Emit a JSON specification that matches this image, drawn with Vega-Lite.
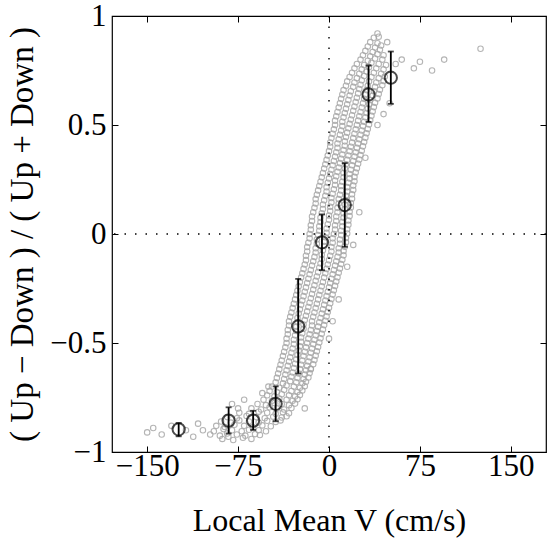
{
  "$schema": "https://vega.github.io/schema/vega-lite/v6.json",
  "width": 434,
  "height": 436,
  "autosize": "none",
  "padding": {"left": 112, "top": 16, "right": 1, "bottom": 95},
  "background": "white",
  "config": {
    "view": {"stroke": "black", "strokeWidth": 1.2},
    "font": "Liberation Serif",
    "axis": {"domain": false, "grid": false, "labelFont": "Liberation Serif", "titleFont": "Liberation Serif", "labelColor": "black", "titleColor": "black", "tickColor": "black", "titleFontWeight": "normal"}
  },
  "datasets": {
    "cloud": [
      {"v":-88,"r":-0.94},{"v":-79,"r":-0.945},{"v":-71,"r":-0.935},{"v":-64,"r":-0.94},{"v":-83,"r":-0.93},
      {"v":-98,"r":-0.92},{"v":-90,"r":-0.925},{"v":-84,"r":-0.915},{"v":-76,"r":-0.92},{"v":-69,"r":-0.925},{"v":-61,"r":-0.918},{"v":-57,"r":-0.922},
      {"v":-104,"r":-0.9},{"v":-95,"r":-0.905},{"v":-87,"r":-0.895},{"v":-80,"r":-0.9},{"v":-72,"r":-0.905},{"v":-66,"r":-0.898},{"v":-58,"r":-0.9},{"v":-52,"r":-0.905},
      {"v":-93,"r":-0.88},{"v":-86,"r":-0.885},{"v":-78,"r":-0.875},{"v":-70,"r":-0.88},{"v":-63,"r":-0.885},{"v":-55,"r":-0.878},{"v":-48,"r":-0.882},
      {"v":-89,"r":-0.86},{"v":-81,"r":-0.865},{"v":-74,"r":-0.855},{"v":-66,"r":-0.86},{"v":-58,"r":-0.865},{"v":-51,"r":-0.857},{"v":-44,"r":-0.862},{"v":-40,"r":-0.855},
      {"v":-84,"r":-0.84},{"v":-76,"r":-0.845},{"v":-68,"r":-0.835},{"v":-60,"r":-0.84},{"v":-53,"r":-0.845},{"v":-46,"r":-0.838},{"v":-39,"r":-0.842},{"v":-35,"r":-0.836},
      {"v":-74,"r":-0.82},{"v":-66,"r":-0.825},{"v":-58,"r":-0.815},{"v":-51,"r":-0.82},{"v":-44,"r":-0.825},{"v":-38,"r":-0.818},{"v":-33,"r":-0.822},
      {"v":-64,"r":-0.8},{"v":-56,"r":-0.805},{"v":-49,"r":-0.795},{"v":-43,"r":-0.8},{"v":-37,"r":-0.805},{"v":-31,"r":-0.798},
      {"v":-59,"r":-0.78},{"v":-52,"r":-0.785},{"v":-45,"r":-0.775},{"v":-39,"r":-0.78},{"v":-33,"r":-0.785},{"v":-28,"r":-0.778},
      {"v":-54,"r":-0.76},{"v":-47,"r":-0.765},{"v":-41,"r":-0.755},{"v":-35,"r":-0.76},{"v":-30,"r":-0.765},{"v":-26,"r":-0.758},
      {"v":-51,"r":-0.74},{"v":-45,"r":-0.745},{"v":-39,"r":-0.735},{"v":-33,"r":-0.74},{"v":-28,"r":-0.745},{"v":-24,"r":-0.738},
      {"v":-49,"r":-0.72},{"v":-43,"r":-0.725},{"v":-37,"r":-0.715},{"v":-31,"r":-0.72},{"v":-26,"r":-0.725},{"v":-22,"r":-0.718},
      {"v":-47,"r":-0.7},{"v":-41,"r":-0.705},{"v":-35,"r":-0.695},{"v":-29,"r":-0.7},{"v":-24,"r":-0.705},{"v":-20,"r":-0.698},
      {"v":-44,"r":-0.68},{"v":-38,"r":-0.685},{"v":-32,"r":-0.675},{"v":-27,"r":-0.68},{"v":-22,"r":-0.685},{"v":-19,"r":-0.678},
      {"v":-43,"r":-0.66},{"v":-37,"r":-0.665},{"v":-31,"r":-0.655},{"v":-26,"r":-0.66},{"v":-21,"r":-0.665},{"v":-17,"r":-0.658},
      {"v":-42,"r":-0.64},{"v":-36,"r":-0.645},{"v":-30,"r":-0.635},{"v":-25,"r":-0.64},{"v":-20,"r":-0.645},{"v":-16,"r":-0.638},
      {"v":-41,"r":-0.62},{"v":-35,"r":-0.625},{"v":-29,"r":-0.615},{"v":-24,"r":-0.62},{"v":-19,"r":-0.625},{"v":-15,"r":-0.618},
      {"v":-40,"r":-0.6},{"v":-34,"r":-0.605},{"v":-28,"r":-0.595},{"v":-23,"r":-0.6},{"v":-18,"r":-0.605},{"v":-13,"r":-0.598},
      {"v":-39,"r":-0.58},{"v":-33,"r":-0.585},{"v":-27,"r":-0.575},{"v":-22,"r":-0.58},{"v":-17,"r":-0.585},{"v":-12,"r":-0.578},
      {"v":-38,"r":-0.56},{"v":-32,"r":-0.565},{"v":-26,"r":-0.555},{"v":-21,"r":-0.56},{"v":-16,"r":-0.565},{"v":-11,"r":-0.558},
      {"v":-37,"r":-0.54},{"v":-31,"r":-0.545},{"v":-25,"r":-0.535},{"v":-20,"r":-0.54},{"v":-15,"r":-0.545},{"v":-10,"r":-0.538},
      {"v":-36,"r":-0.52},{"v":-30,"r":-0.525},{"v":-24,"r":-0.515},{"v":-19,"r":-0.52},{"v":-14,"r":-0.525},{"v":-9,"r":-0.518},
      {"v":-35,"r":-0.5},{"v":-29,"r":-0.505},{"v":-23,"r":-0.495},{"v":-18,"r":-0.5},{"v":-13,"r":-0.505},{"v":-8,"r":-0.498},
      {"v":-35,"r":-0.48},{"v":-29,"r":-0.485},{"v":-23,"r":-0.475},{"v":-17,"r":-0.48},{"v":-12,"r":-0.485},{"v":-7,"r":-0.478},
      {"v":-34,"r":-0.46},{"v":-28,"r":-0.465},{"v":-22,"r":-0.455},{"v":-16,"r":-0.46},{"v":-11,"r":-0.465},{"v":-6,"r":-0.458},
      {"v":-34,"r":-0.44},{"v":-27,"r":-0.445},{"v":-21,"r":-0.435},{"v":-15,"r":-0.44},{"v":-10,"r":-0.445},{"v":-5,"r":-0.438},
      {"v":-33,"r":-0.42},{"v":-27,"r":-0.425},{"v":-21,"r":-0.415},{"v":-14,"r":-0.42},{"v":-9,"r":-0.425},{"v":-4,"r":-0.418},
      {"v":-33,"r":-0.4},{"v":-26,"r":-0.405},{"v":-20,"r":-0.395},{"v":-14,"r":-0.4},{"v":-8,"r":-0.405},{"v":-3,"r":-0.398},
      {"v":-32,"r":-0.38},{"v":-26,"r":-0.385},{"v":-19,"r":-0.375},{"v":-13,"r":-0.38},{"v":-7,"r":-0.385},{"v":-2,"r":-0.378},
      {"v":-31,"r":-0.36},{"v":-25,"r":-0.365},{"v":-18,"r":-0.355},{"v":-12,"r":-0.36},{"v":-6,"r":-0.365},{"v":-1,"r":-0.358},
      {"v":-30,"r":-0.34},{"v":-24,"r":-0.345},{"v":-17,"r":-0.335},{"v":-11,"r":-0.34},{"v":-5,"r":-0.345},{"v":0,"r":-0.338},
      {"v":-29,"r":-0.32},{"v":-23,"r":-0.325},{"v":-16,"r":-0.315},{"v":-10,"r":-0.32},{"v":-4,"r":-0.325},{"v":1,"r":-0.318},
      {"v":-28,"r":-0.3},{"v":-22,"r":-0.305},{"v":-15,"r":-0.295},{"v":-9,"r":-0.3},{"v":-3,"r":-0.305},{"v":2,"r":-0.298},
      {"v":-27,"r":-0.28},{"v":-21,"r":-0.285},{"v":-14,"r":-0.275},{"v":-8,"r":-0.28},{"v":-2,"r":-0.285},{"v":3,"r":-0.278},
      {"v":-26,"r":-0.26},{"v":-20,"r":-0.265},{"v":-13,"r":-0.255},{"v":-7,"r":-0.26},{"v":-1,"r":-0.265},{"v":4,"r":-0.258},
      {"v":-25,"r":-0.24},{"v":-19,"r":-0.245},{"v":-12,"r":-0.235},{"v":-6,"r":-0.24},{"v":0,"r":-0.245},{"v":5,"r":-0.238},
      {"v":-24,"r":-0.22},{"v":-18,"r":-0.225},{"v":-11,"r":-0.215},{"v":-5,"r":-0.22},{"v":1,"r":-0.225},{"v":6,"r":-0.218},
      {"v":-23,"r":-0.2},{"v":-17,"r":-0.205},{"v":-10,"r":-0.195},{"v":-4,"r":-0.2},{"v":2,"r":-0.205},{"v":7,"r":-0.198},
      {"v":-22,"r":-0.18},{"v":-16,"r":-0.185},{"v":-9,"r":-0.175},{"v":-3,"r":-0.18},{"v":3,"r":-0.185},{"v":8,"r":-0.178},
      {"v":-21,"r":-0.16},{"v":-15,"r":-0.165},{"v":-8,"r":-0.155},{"v":-2,"r":-0.16},{"v":4,"r":-0.165},{"v":9,"r":-0.158},
      {"v":-20,"r":-0.14},{"v":-14,"r":-0.145},{"v":-7,"r":-0.135},{"v":-1,"r":-0.14},{"v":5,"r":-0.145},{"v":10,"r":-0.138},
      {"v":-19,"r":-0.12},{"v":-13,"r":-0.125},{"v":-6,"r":-0.115},{"v":0,"r":-0.12},{"v":6,"r":-0.125},{"v":11,"r":-0.118},
      {"v":-19,"r":-0.1},{"v":-12,"r":-0.105},{"v":-6,"r":-0.095},{"v":1,"r":-0.1},{"v":7,"r":-0.105},{"v":12,"r":-0.098},
      {"v":-18,"r":-0.08},{"v":-11,"r":-0.085},{"v":-5,"r":-0.075},{"v":2,"r":-0.08},{"v":8,"r":-0.085},{"v":12,"r":-0.078},
      {"v":-18,"r":-0.06},{"v":-11,"r":-0.065},{"v":-4,"r":-0.055},{"v":2,"r":-0.06},{"v":8,"r":-0.065},{"v":13,"r":-0.058},
      {"v":-17,"r":-0.04},{"v":-10,"r":-0.045},{"v":-4,"r":-0.035},{"v":3,"r":-0.04},{"v":9,"r":-0.045},{"v":14,"r":-0.038},
      {"v":-16,"r":-0.02},{"v":-10,"r":-0.025},{"v":-3,"r":-0.015},{"v":3,"r":-0.02},{"v":9,"r":-0.025},{"v":14,"r":-0.018},
      {"v":-16,"r":0.0},{"v":-9,"r":-0.005},{"v":-2,"r":0.005},{"v":4,"r":0.0},{"v":10,"r":-0.005},{"v":15,"r":0.002},
      {"v":-15,"r":0.02},{"v":-8,"r":0.015},{"v":-2,"r":0.025},{"v":5,"r":0.02},{"v":10,"r":0.015},{"v":15,"r":0.022},
      {"v":-15,"r":0.04},{"v":-8,"r":0.035},{"v":-1,"r":0.045},{"v":5,"r":0.04},{"v":11,"r":0.035},{"v":16,"r":0.042},
      {"v":-14,"r":0.06},{"v":-7,"r":0.055},{"v":0,"r":0.065},{"v":6,"r":0.06},{"v":11,"r":0.055},{"v":16,"r":0.062},
      {"v":-14,"r":0.08},{"v":-7,"r":0.075},{"v":0,"r":0.085},{"v":6,"r":0.08},{"v":12,"r":0.075},{"v":17,"r":0.082},
      {"v":-13,"r":0.1},{"v":-6,"r":0.095},{"v":1,"r":0.105},{"v":7,"r":0.1},{"v":12,"r":0.095},{"v":17,"r":0.102},
      {"v":-12,"r":0.12},{"v":-5,"r":0.115},{"v":1,"r":0.125},{"v":7,"r":0.12},{"v":13,"r":0.115},{"v":18,"r":0.122},
      {"v":-11,"r":0.14},{"v":-5,"r":0.135},{"v":2,"r":0.145},{"v":8,"r":0.14},{"v":13,"r":0.135},{"v":18,"r":0.142},
      {"v":-11,"r":0.16},{"v":-4,"r":0.155},{"v":2,"r":0.165},{"v":8,"r":0.16},{"v":14,"r":0.155},{"v":19,"r":0.162},
      {"v":-10,"r":0.18},{"v":-3,"r":0.175},{"v":3,"r":0.185},{"v":9,"r":0.18},{"v":14,"r":0.175},{"v":19,"r":0.182},
      {"v":-9,"r":0.2},{"v":-2,"r":0.195},{"v":4,"r":0.205},{"v":10,"r":0.2},{"v":15,"r":0.195},{"v":20,"r":0.202},
      {"v":-8,"r":0.22},{"v":-2,"r":0.215},{"v":5,"r":0.225},{"v":10,"r":0.22},{"v":15,"r":0.215},{"v":20,"r":0.222},
      {"v":-7,"r":0.24},{"v":-1,"r":0.235},{"v":5,"r":0.245},{"v":11,"r":0.24},{"v":16,"r":0.235},{"v":21,"r":0.242},
      {"v":-6,"r":0.26},{"v":0,"r":0.255},{"v":6,"r":0.265},{"v":12,"r":0.26},{"v":17,"r":0.255},{"v":21,"r":0.262},
      {"v":-5,"r":0.28},{"v":1,"r":0.275},{"v":7,"r":0.285},{"v":12,"r":0.28},{"v":17,"r":0.275},{"v":22,"r":0.282},
      {"v":-4,"r":0.3},{"v":2,"r":0.295},{"v":8,"r":0.305},{"v":13,"r":0.3},{"v":18,"r":0.295},{"v":23,"r":0.302},
      {"v":-3,"r":0.32},{"v":3,"r":0.315},{"v":9,"r":0.325},{"v":14,"r":0.32},{"v":19,"r":0.315},{"v":24,"r":0.322},
      {"v":-2,"r":0.34},{"v":4,"r":0.335},{"v":10,"r":0.345},{"v":15,"r":0.34},{"v":20,"r":0.335},{"v":25,"r":0.342},
      {"v":-1,"r":0.36},{"v":5,"r":0.355},{"v":11,"r":0.365},{"v":16,"r":0.36},{"v":21,"r":0.355},{"v":26,"r":0.362},
      {"v":0,"r":0.38},{"v":6,"r":0.375},{"v":12,"r":0.385},{"v":17,"r":0.38},{"v":22,"r":0.375},{"v":27,"r":0.382},
      {"v":1,"r":0.4},{"v":7,"r":0.395},{"v":13,"r":0.405},{"v":18,"r":0.4},{"v":23,"r":0.395},{"v":28,"r":0.402},
      {"v":1,"r":0.42},{"v":7,"r":0.415},{"v":13,"r":0.425},{"v":19,"r":0.42},{"v":24,"r":0.415},{"v":29,"r":0.422},
      {"v":2,"r":0.44},{"v":8,"r":0.435},{"v":14,"r":0.445},{"v":20,"r":0.44},{"v":25,"r":0.435},{"v":30,"r":0.442},
      {"v":3,"r":0.46},{"v":9,"r":0.455},{"v":15,"r":0.465},{"v":21,"r":0.46},{"v":26,"r":0.455},{"v":31,"r":0.462},
      {"v":4,"r":0.48},{"v":10,"r":0.475},{"v":16,"r":0.485},{"v":22,"r":0.48},{"v":27,"r":0.475},{"v":32,"r":0.482},
      {"v":5,"r":0.5},{"v":11,"r":0.495},{"v":17,"r":0.505},{"v":23,"r":0.5},{"v":28,"r":0.495},{"v":33,"r":0.502},
      {"v":5,"r":0.52},{"v":11,"r":0.515},{"v":18,"r":0.525},{"v":24,"r":0.52},{"v":29,"r":0.515},{"v":34,"r":0.522},
      {"v":6,"r":0.54},{"v":12,"r":0.535},{"v":19,"r":0.545},{"v":25,"r":0.54},{"v":30,"r":0.535},{"v":35,"r":0.542},
      {"v":7,"r":0.56},{"v":13,"r":0.555},{"v":20,"r":0.565},{"v":26,"r":0.56},{"v":31,"r":0.555},{"v":36,"r":0.562},
      {"v":8,"r":0.58},{"v":14,"r":0.575},{"v":21,"r":0.585},{"v":27,"r":0.58},{"v":32,"r":0.575},{"v":37,"r":0.582},
      {"v":9,"r":0.6},{"v":15,"r":0.595},{"v":22,"r":0.605},{"v":28,"r":0.6},{"v":33,"r":0.595},{"v":38,"r":0.602},
      {"v":10,"r":0.62},{"v":16,"r":0.615},{"v":23,"r":0.625},{"v":29,"r":0.62},{"v":34,"r":0.615},{"v":40,"r":0.622},
      {"v":11,"r":0.64},{"v":17,"r":0.635},{"v":24,"r":0.645},{"v":30,"r":0.64},{"v":36,"r":0.635},{"v":41,"r":0.642},
      {"v":12,"r":0.66},{"v":18,"r":0.655},{"v":25,"r":0.665},{"v":31,"r":0.66},{"v":37,"r":0.655},{"v":42,"r":0.662},
      {"v":14,"r":0.68},{"v":20,"r":0.675},{"v":26,"r":0.685},{"v":32,"r":0.68},{"v":38,"r":0.675},{"v":44,"r":0.682},
      {"v":15,"r":0.7},{"v":21,"r":0.695},{"v":27,"r":0.705},{"v":33,"r":0.7},{"v":39,"r":0.695},{"v":45,"r":0.702},
      {"v":17,"r":0.72},{"v":23,"r":0.715},{"v":29,"r":0.725},{"v":35,"r":0.72},{"v":41,"r":0.715},{"v":46,"r":0.722},
      {"v":19,"r":0.74},{"v":25,"r":0.735},{"v":31,"r":0.745},{"v":37,"r":0.74},{"v":43,"r":0.735},
      {"v":21,"r":0.76},{"v":27,"r":0.755},{"v":33,"r":0.765},{"v":39,"r":0.76},{"v":45,"r":0.755},
      {"v":23,"r":0.78},{"v":29,"r":0.775},{"v":35,"r":0.785},{"v":41,"r":0.78},{"v":47,"r":0.775},
      {"v":26,"r":0.8},{"v":32,"r":0.795},{"v":38,"r":0.805},{"v":44,"r":0.8},
      {"v":28,"r":0.82},{"v":34,"r":0.815},{"v":40,"r":0.825},{"v":45,"r":0.82},
      {"v":30,"r":0.84},{"v":36,"r":0.835},{"v":42,"r":0.845},
      {"v":32,"r":0.86},{"v":38,"r":0.855},{"v":43,"r":0.865},
      {"v":34,"r":0.88},{"v":40,"r":0.875},
      {"v":37,"r":0.9},{"v":41,"r":0.905},
      {"v":-150,"r":-0.91},{"v":-145,"r":-0.89},{"v":-138,"r":-0.92},{"v":-130,"r":-0.88},{"v":-118,"r":-0.9},{"v":-112,"r":-0.93},{"v":-108,"r":-0.87},
      {"v":-80,"r":-0.78},{"v":-75,"r":-0.8},{"v":-70,"r":-0.76},{"v":-55,"r":-0.73},{"v":-50,"r":-0.7},{"v":-20,"r":-0.8},{"v":-15,"r":-0.62},
      {"v":0,"r":-0.48},{"v":3,"r":-0.4},{"v":8,"r":-0.3},{"v":15,"r":-0.15},{"v":20,"r":-0.05},{"v":25,"r":0.1},{"v":30,"r":0.35},
      {"v":40,"r":0.5},{"v":45,"r":0.55},{"v":50,"r":0.6},{"v":55,"r":0.78},{"v":60,"r":0.8},{"v":70,"r":0.76},{"v":75,"r":0.79},
      {"v":85,"r":0.75},{"v":95,"r":0.8},{"v":125,"r":0.85},{"v":48,"r":0.88},{"v":40,"r":0.92}
    ],
    "bins": [
      {"v":-124,"r":-0.896,"lo":-0.928,"hi":-0.867},
      {"v":-82.8,"r":-0.856,"lo":-0.915,"hi":-0.795},
      {"v":-62.6,"r":-0.856,"lo":-0.899,"hi":-0.811},
      {"v":-44,"r":-0.779,"lo":-0.859,"hi":-0.699},
      {"v":-25.4,"r":-0.424,"lo":-0.64,"hi":-0.206},
      {"v":-5.8,"r":-0.038,"lo":-0.166,"hi":0.09},
      {"v":13,"r":0.133,"lo":-0.059,"hi":0.325},
      {"v":32.6,"r":0.64,"lo":0.514,"hi":0.773},
      {"v":51,"r":0.717,"lo":0.597,"hi":0.837}
    ],
    "refs": [{"zero": 0}]
  },
  "layer": [
    {
      "data": {"name": "cloud"},
      "mark": {"type": "point", "shape": "circle", "filled": false, "size": 30, "strokeWidth": 1.1, "color": "#a8a8a8", "opacity": 0.85},
      "encoding": {
        "x": {"field": "v", "type": "quantitative", "scale": {"domain": [-179, 179], "nice": false, "zero": false},
          "axis": {"orient": "bottom", "values": [-150, -75, 0, 75, 150], "format": "d", "labelFontSize": 31, "tickSize": -6, "tickWidth": 1, "labelPadding": 5, "labelFlush": false, "title": "Local Mean V (cm/s)", "titleFontSize": 32, "titlePadding": 24}},
        "y": {"field": "r", "type": "quantitative", "scale": {"domain": [-1, 1], "nice": false, "zero": false},
          "axis": {"orient": "left", "values": [-1, -0.5, 0, 0.5, 1], "format": "~g", "labelFontSize": 31, "tickSize": -6, "tickWidth": 1, "labelPadding": 12, "labelFlush": false, "title": "( Up − Down ) / ( Up + Down )", "titleFontSize": 33, "titlePadding": 10}}
      }
    },
    {
      "data": {"name": "refs"},
      "mark": {"type": "rule", "color": "black", "strokeWidth": 1.4, "strokeDash": [1.5, 9]},
      "encoding": {"x": {"field": "zero", "type": "quantitative", "axis": null}}
    },
    {
      "data": {"name": "refs"},
      "mark": {"type": "rule", "color": "black", "strokeWidth": 1.4, "strokeDash": [1.5, 9]},
      "encoding": {"y": {"field": "zero", "type": "quantitative", "axis": null}}
    },
    {
      "data": {"name": "bins"},
      "mark": {"type": "rule", "color": "black", "strokeWidth": 1.8},
      "encoding": {
        "x": {"field": "v", "type": "quantitative", "axis": null},
        "y": {"field": "lo", "type": "quantitative", "axis": null},
        "y2": {"field": "hi"}
      }
    },
    {
      "data": {"name": "bins"},
      "mark": {"type": "tick", "orient": "horizontal", "color": "black", "size": 6, "thickness": 1.8},
      "encoding": {
        "x": {"field": "v", "type": "quantitative", "axis": null},
        "y": {"field": "lo", "type": "quantitative", "axis": null}
      }
    },
    {
      "data": {"name": "bins"},
      "mark": {"type": "tick", "orient": "horizontal", "color": "black", "size": 6, "thickness": 1.8},
      "encoding": {
        "x": {"field": "v", "type": "quantitative", "axis": null},
        "y": {"field": "hi", "type": "quantitative", "axis": null}
      }
    },
    {
      "data": {"name": "bins"},
      "mark": {"type": "point", "shape": "circle", "filled": false, "size": 150, "color": "black", "strokeWidth": 2},
      "encoding": {
        "x": {"field": "v", "type": "quantitative",
          "axis": {"orient": "top", "values": [-150, -75, 0, 75, 150], "labels": false, "tickSize": -6, "tickWidth": 1, "title": null}},
        "y": {"field": "r", "type": "quantitative",
          "axis": {"orient": "right", "values": [-1, -0.5, 0, 0.5, 1], "labels": false, "tickSize": -6, "tickWidth": 1, "title": null}}
      }
    }
  ],
  "resolve": {"axis": {"x": "independent", "y": "independent"}}
}
